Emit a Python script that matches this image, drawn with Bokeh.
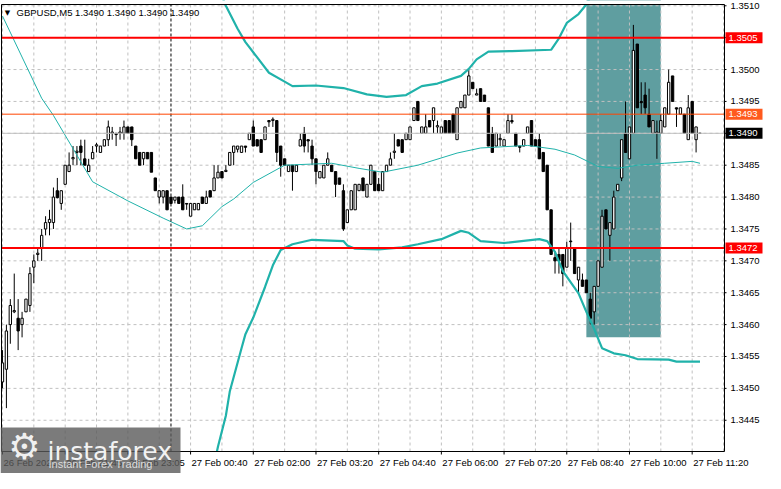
from bokeh.plotting import figure
from bokeh.models import Range1d
from bokeh.core.properties import value
from bokeh.embed import file_html
from bokeh.resources import INLINE

# ---------------- data ----------------
symbol = "GBPUSD,M5"
last_quote = "1.3490 1.3490 1.3490 1.3490"

opens = [
    1.3451, 1.3453, 1.3460, 1.3462, 1.3461, 1.3460, 1.3462, 1.3463, 1.3469, 1.3471,
    1.3472, 1.3475, 1.3476, 1.3476, 1.3481, 1.3479, 1.3482, 1.3484, 1.3486, 1.3487,
    1.3488, 1.3486, 1.3484, 1.3486, 1.3488, 1.3487, 1.3488, 1.3489, 1.3490, 1.3490,
    1.3490, 1.3490, 1.3491, 1.3491, 1.3488, 1.3487, 1.3486, 1.3487, 1.3487, 1.3483,
    1.3480, 1.3480, 1.3481, 1.3480, 1.34795, 1.3480, 1.3480, 1.3479, 1.3477, 1.3478,
    1.3478, 1.3480, 1.3479, 1.3481, 1.3481, 1.3483, 1.3484, 1.3484, 1.3485, 1.3487,
    1.34875, 1.3487, 1.3488, 1.3489, 1.3491, 1.3489, 1.3489, 1.3489, 1.3492, 1.3492,
    1.3492, 1.3488, 1.3486, 1.3484, 1.3485, 1.3484, 1.3488, 1.3490, 1.3489, 1.3488,
    1.3486, 1.3483, 1.3483, 1.3485, 1.3485, 1.3484, 1.3483, 1.3481, 1.3476, 1.3478,
    1.3478, 1.3481, 1.3483, 1.3480, 1.3482, 1.3484, 1.3482, 1.3481, 1.3484, 1.3485,
    1.3487, 1.3489, 1.3489, 1.3489, 1.3489, 1.3492, 1.3495, 1.3490, 1.3490, 1.3492,
    1.3492, 1.3491, 1.3490, 1.3492, 1.3492, 1.3493, 1.3489, 1.3494, 1.3494, 1.3496,
    1.3498, 1.3496, 1.3497, 1.3496, 1.3494, 1.3490, 1.3488, 1.3489, 1.3488, 1.3490,
    1.3492, 1.3490, 1.3488, 1.3488, 1.3490, 1.3492, 1.3489, 1.3489, 1.3487, 1.3485,
    1.3478, 1.34705, 1.3471, 1.3471, 1.3469, 1.34731, 1.3472, 1.3467, 1.3467, 1.3467,
    1.3464, 1.3462, 1.3466, 1.3469, 1.3478, 1.3474, 1.3475, 1.3481, 1.3483, 1.3490,
    1.3486, 1.3490, 1.3504, 1.3495, 1.3496, 1.3493, 1.3490, 1.3490, 1.3490, 1.3491,
    1.3493, 1.3499, 1.3494, 1.3493, 1.3493, 1.3489, 1.3495, 1.3489, 1.3490,
]
highs = [
    1.3456, 1.3460, 1.3464, 1.3468, 1.3464, 1.3462, 1.3464, 1.3469, 1.3471, 1.3472,
    1.3475, 1.3477, 1.3478, 1.34815, 1.3483, 1.3481, 1.3485, 1.3487, 1.3488, 1.3488,
    1.3489, 1.3489, 1.3486, 1.3488, 1.34885, 1.3488, 1.3489, 1.3492, 1.3491, 1.3490,
    1.3491, 1.3492, 1.3491, 1.3491, 1.3488, 1.3487, 1.3487, 1.3487, 1.3487, 1.3483,
    1.3481, 1.3481, 1.3481, 1.3480, 1.3480, 1.3480, 1.3482, 1.3479, 1.3479, 1.3479,
    1.3479, 1.3480, 1.3481, 1.3481, 1.3485, 1.3485, 1.3484, 1.3485, 1.3487, 1.3488,
    1.3488, 1.3488, 1.3488, 1.3490, 1.3492, 1.3489, 1.3489, 1.3491, 1.3492, 1.34925,
    1.3492, 1.3488, 1.3486, 1.3485, 1.3485, 1.3485, 1.3490, 1.3491, 1.3489, 1.3489,
    1.3486, 1.3484, 1.3485, 1.3487, 1.3485, 1.3484, 1.3483, 1.3482, 1.3478, 1.3481,
    1.3482, 1.3482, 1.3483, 1.3482, 1.3485, 1.3484, 1.3483, 1.3484, 1.3485, 1.3487,
    1.3490, 1.3489, 1.3489, 1.3490, 1.3491, 1.3494, 1.3495, 1.3491, 1.3493, 1.3492,
    1.3494, 1.3492, 1.3491, 1.3492, 1.3492, 1.3493, 1.3494, 1.3495, 1.3496, 1.3500,
    1.3498, 1.3497, 1.3497, 1.3496, 1.3494, 1.3491, 1.3490, 1.3490, 1.3489, 1.3493,
    1.3493, 1.3490, 1.3488, 1.3489, 1.3491, 1.3492, 1.3489, 1.3490, 1.3487, 1.3485,
    1.3478, 1.34715, 1.3472, 1.3471, 1.3473, 1.3476, 1.3472, 1.3469, 1.3468, 1.3467,
    1.3465, 1.3466, 1.3470, 1.3478, 1.3478, 1.3476, 1.3481, 1.3482, 1.3489, 1.3495,
    1.3491, 1.3507, 1.3504, 1.3498, 1.3498, 1.3497, 1.3492, 1.3492, 1.3493, 1.3494,
    1.3500, 1.3499, 1.3494, 1.3494, 1.3493, 1.3496, 1.3495, 1.3491, 1.3490,
]
lows = [
    1.3450, 1.34469, 1.3457, 1.34618, 1.3456, 1.3458, 1.3462, 1.3462, 1.34665, 1.3470,
    1.3470, 1.3474, 1.3474, 1.3475, 1.34798, 1.3478, 1.3482, 1.3484, 1.3485, 1.3485,
    1.3485, 1.3485, 1.3484, 1.3486, 1.3487, 1.3487, 1.3488, 1.3488, 1.3489, 1.3488,
    1.3489, 1.3489, 1.3490, 1.3488, 1.3486, 1.3485, 1.3485, 1.3486, 1.3484, 1.3481,
    1.3479, 1.3479, 1.3478, 1.3479, 1.3479, 1.3479, 1.3478, 1.3478, 1.3477, 1.3478,
    1.3478, 1.3479, 1.3479, 1.3480, 1.3481, 1.3483, 1.3483, 1.3484, 1.3485, 1.3485,
    1.3487, 1.3487, 1.3487, 1.3489, 1.3488, 1.3488, 1.3487, 1.3489, 1.3491, 1.3491,
    1.34855, 1.34832, 1.3485, 1.3484, 1.3481, 1.3484, 1.3488, 1.3487, 1.3487, 1.3485,
    1.3482, 1.3483, 1.3483, 1.3485, 1.3484, 1.3480, 1.3482, 1.34747, 1.3476, 1.3478,
    1.3478, 1.3481, 1.3481, 1.3480, 1.3482, 1.3481, 1.3481, 1.3481, 1.3484, 1.3485,
    1.3486, 1.3488, 1.3487, 1.3489, 1.3489, 1.3492, 1.3492, 1.3490, 1.3490, 1.3491,
    1.3490, 1.3490, 1.3490, 1.3490, 1.3490, 1.3490, 1.3489, 1.3494, 1.3494, 1.3496,
    1.3497, 1.3496, 1.3495, 1.3495, 1.3488, 1.3487, 1.3488, 1.3488, 1.3488, 1.3490,
    1.34915, 1.3488, 1.3487, 1.3488, 1.3490, 1.3488, 1.3488, 1.3486, 1.3484, 1.3478,
    1.3471, 1.3468, 1.3468, 1.3466, 1.3469, 1.3470, 1.3468, 1.3465, 1.3466, 1.3465,
    1.3460, 1.3460, 1.3466, 1.3469, 1.3475, 1.3470, 1.3475, 1.3481, 1.34825, 1.3487,
    1.3486, 1.3490, 1.3494, 1.3493, 1.3493, 1.3491, 1.3490, 1.3486, 1.3490, 1.3491,
    1.3493, 1.3495, 1.3491, 1.3493, 1.3490, 1.3489, 1.3490, 1.3487, 1.3490,
]
closes = [
    1.3454, 1.3459, 1.3463, 1.34622, 1.3459, 1.3461, 1.3464, 1.3468, 1.3470, 1.34712,
    1.3474, 1.3476, 1.34765, 1.3480, 1.34799, 1.3481, 1.3485, 1.3485, 1.34862, 1.34872,
    1.3487, 1.3485, 1.3485, 1.3487, 1.34882, 1.3488, 1.3489, 1.3491, 1.34902, 1.34898,
    1.34902, 1.3491, 1.3490, 1.3489, 1.3486, 1.3485, 1.3487, 1.3486, 1.34839, 1.3481,
    1.3481, 1.3481, 1.3478, 1.3479, 1.3480, 1.3479, 1.3478, 1.34789, 1.3479, 1.3479,
    1.3479, 1.3479, 1.3480, 1.3480, 1.3483, 1.34839, 1.3483, 1.34842, 1.3487, 1.3488,
    1.3488, 1.3488, 1.34878, 1.3490, 1.3488, 1.3488, 1.3487, 1.3491, 1.34918, 1.34922,
    1.3487, 1.3485, 1.3485, 1.3485, 1.3484, 1.3485, 1.3489, 1.3488, 1.34888, 1.3486,
    1.3484, 1.3484, 1.3485, 1.3486, 1.3484, 1.3482, 1.3482, 1.3475, 1.3478, 1.3481,
    1.3482, 1.3482, 1.3481, 1.3482, 1.3485, 1.3481, 1.3481, 1.3484, 1.3485, 1.3486,
    1.34872, 1.3488, 1.3487, 1.3490, 1.3491, 1.3494, 1.3492, 1.3491, 1.3491, 1.3491,
    1.3494, 1.34912, 1.3491, 1.3490, 1.3490, 1.3490, 1.3494, 1.3495, 1.3496, 1.3499,
    1.3497, 1.34962, 1.3495, 1.3495, 1.3488, 1.3487, 1.3490, 1.34892, 1.3489, 1.3492,
    1.34918, 1.3488, 1.34878, 1.3489, 1.3491, 1.3488, 1.3488, 1.3486, 1.3484, 1.3478,
    1.3471, 1.3470, 1.3470, 1.3468, 1.3472, 1.3473, 1.3468, 1.3469, 1.3466, 1.3465,
    1.3461, 1.3466, 1.3470, 1.3477, 1.3475, 1.3476, 1.3480, 1.3482, 1.3489, 1.3487,
    1.3491, 1.3503, 1.3494, 1.34948, 1.3494, 1.3491, 1.3492, 1.34902, 1.3492, 1.3494,
    1.3498, 1.3495, 1.34938, 1.3494, 1.3490, 1.3494, 1.3490, 1.3491, 1.3490,
]

# moving average (thin) and Bollinger bands (thick): read points (bar index, price)
ma_bars = [0, 10, 13, 23, 32, 41, 47, 51, 56, 59, 64, 72, 84, 91, 97, 106, 116, 122,
           134, 141, 146, 152, 157, 162, 169, 176, 178]
ma_vals = [1.35084, 1.34955, 1.34928, 1.34824, 1.34794, 1.34767, 1.34750, 1.34755,
           1.34785, 1.34797, 1.34823, 1.34850, 1.34853, 1.34845, 1.34839, 1.34850,
           1.34869, 1.34877, 1.34881, 1.34875, 1.34866, 1.34848, 1.34845, 1.34850,
           1.34853, 1.34856, 1.34853]

upper_bars = [55, 57, 60, 62, 65, 68, 72, 74, 80, 87, 93, 98, 103, 107, 111, 117, 119,
              121, 124, 130, 140, 142, 144, 147, 149, 151]
upper_vals = [1.35130, 1.35100, 1.35064, 1.35043, 1.35019, 1.34995, 1.34981, 1.34974,
              1.34975, 1.34971, 1.34961, 1.34957, 1.34960, 1.34974, 1.34978, 1.34990,
              1.35001, 1.35016, 1.35028, 1.35029, 1.35031, 1.35049, 1.35073, 1.35087,
              1.35102, 1.35125]

lower_bars = [54, 55, 57, 58, 61, 62, 64, 67, 69, 71, 74, 79, 87, 88, 90, 96, 102, 106,
              112, 117, 119, 122, 128, 137, 139, 141, 143, 147, 149, 151, 153, 156, 159,
              162, 170, 172, 178]
lower_vals = [1.34381, 1.34409, 1.34457, 1.34495, 1.34563, 1.34585, 1.34611, 1.34659,
              1.34693, 1.34717, 1.34726, 1.34733, 1.34731, 1.34724, 1.34719, 1.34718,
              1.34721, 1.34726, 1.34734, 1.34747, 1.34744, 1.34731, 1.34728, 1.34734,
              1.34731, 1.34714, 1.34684, 1.34649, 1.34620, 1.34593, 1.34563, 1.34555,
              1.34552, 1.34546, 1.34545, 1.34542, 1.34542]

# horizontal levels and the shaded zone
red_levels = [1.3505, 1.3472]
orange_level = 1.3493
bid_level = 1.3490
zone_bars = [149, 168]
zone_prices = [1.3458, 1.3512]
day_break_bar = 43

# axes
time_tick_bars = [0, 16, 32, 48, 64, 80, 96, 112, 128, 144, 160, 176]
time_tick_labels = ["26 Feb 2025", "26 Feb 21:45", "26 Feb 23:05", "27 Feb 00:40",
                    "27 Feb 02:00", "27 Feb 03:20", "27 Feb 04:40", "27 Feb 06:00",
                    "27 Feb 07:20", "27 Feb 08:40", "27 Feb 10:00", "27 Feb 11:20"]
price_ticks = [1.3445, 1.3450, 1.3455, 1.3460, 1.3465, 1.3470, 1.3475, 1.3480,
               1.3485, 1.3490, 1.3495, 1.3500, 1.3505, 1.3510]
logo_word = "instaforex"
logo_tagline = "Instant Forex Trading"

# ---------------- layout / styling ----------------
FONT = "Liberation Sans"
FS = "9.5px"
TEAL = "#20b2aa"
GRID = "#c0c0c0"

CW, CH = 765, 473                  # canvas
L, T, R, B = 1, 4, 724, 451        # chart area borders (canvas px)
bar_lo, bar_hi = -0.25, 184.25     # chart area in bar units
price_lo, price_hi = 1.34401, 1.35102

ppb = (R - L) / (bar_hi - bar_lo)
ppp = (B - T) / (price_hi - price_lo)
x_start = bar_lo - L / ppb
x_end = x_start + CW / ppb
y_end = price_hi + T / ppp
y_start = y_end - CH / ppp


def cx(px):
    return x_start + px / ppb


def cy(py):
    return y_end - py / ppp


def dx(px):
    return px / ppb


def dy(py):
    return py / ppp


bars = list(range(len(opens)))
body_top = [max(o, c) for o, c in zip(opens, closes)]
body_bot = [min(o, c) for o, c in zip(opens, closes)]
body_fill = ["white" if c >= o else "black" for o, c in zip(opens, closes)]

p = figure(width=CW, height=CH,
           x_range=Range1d(x_start, x_end), y_range=Range1d(y_start, y_end),
           x_axis_location=None, y_axis_location=None,
           toolbar_location=None, output_backend="svg",
           min_border=0, min_border_left=0, min_border_right=0,
           min_border_top=0, min_border_bottom=0,
           background_fill_color="white", border_fill_color="white",
           outline_line_color=None)
p.xgrid.visible = False
p.ygrid.visible = False

# shaded zone
p.quad(left=[zone_bars[0]], right=[zone_bars[1]], bottom=[zone_prices[0]], top=[zone_prices[1]],
       fill_color="#5f9ea0", line_color=None)

# dashed grid
grid_bars = list(range(0, 185, 8))
p.segment(x0=grid_bars, y0=[price_lo] * len(grid_bars), x1=grid_bars, y1=[price_hi] * len(grid_bars),
          line_color=GRID, line_width=1, line_dash="3 3")
p.segment(x0=[bar_lo] * len(price_ticks), y0=price_ticks, x1=[bar_hi] * len(price_ticks), y1=price_ticks,
          line_color=GRID, line_width=1, line_dash="3 3")

# candles
p.segment(x0=bars, y0=highs, x1=bars, y1=lows, line_color="black", line_width=1)
p.vbar(x=bars, width=0.6, top=body_top, bottom=body_bot, fill_color=body_fill,
       line_color="black", line_width=1)

# indicators
p.line(ma_bars, ma_vals, line_color=TEAL, line_width=1)
p.line(upper_bars, upper_vals, line_color=TEAL, line_width=2.2)
p.line(lower_bars, lower_vals, line_color=TEAL, line_width=2.2)

# levels
p.segment(x0=[day_break_bar], y0=[price_lo], x1=[day_break_bar], y1=[price_hi],
          line_color="black", line_width=1, line_dash="3 2")
p.segment(x0=[bar_lo], y0=[bid_level], x1=[bar_hi], y1=[bid_level], line_color="#c0c0c0", line_width=1)
p.segment(x0=[bar_lo], y0=[orange_level], x1=[bar_hi], y1=[orange_level], line_color="#ff4500", line_width=1)
p.segment(x0=[bar_lo] * 2, y0=red_levels, x1=[bar_hi] * 2, y1=red_levels, line_color="#ff0000", line_width=2)

# mask everything outside the chart area, then the chart border
p.quad(left=[x_start, x_start, bar_hi, x_start], right=[x_end, x_end, x_end, bar_lo],
       bottom=[price_hi, y_start, y_start, y_start], top=[y_end, price_lo, y_end, y_end],
       fill_color="white", line_color=None)
p.quad(left=[bar_lo], right=[bar_hi], bottom=[price_lo], top=[price_hi],
       fill_color=None, line_color="black", line_width=1)

# symbol caption
p.text(x=[cx(L + 6)], y=[cy(T + 8)], text=["\u25bc"], text_font=value("DejaVu Sans"),
       text_font_size="7px", text_color="black", text_align="center", text_baseline="middle")
p.text(x=[cx(L + 15)], y=[cy(T + 8)], text=[symbol + "  " + last_quote], text_font=value(FONT),
       text_font_size=FS, text_color="black", text_align="left", text_baseline="middle")

# right price axis: ticks + labels
p.segment(x0=[bar_hi] * len(price_ticks), y0=price_ticks, x1=[bar_hi + dx(2)] * len(price_ticks),
          y1=price_ticks, line_color="black", line_width=1)
p.text(x=[bar_hi + dx(6)] * len(price_ticks), y=price_ticks, text=["%.4f" % v for v in price_ticks],
       text_font=value(FONT), text_font_size=FS, text_color="black",
       text_align="left", text_baseline="middle")

# bottom time axis: ticks + left-aligned labels
p.segment(x0=time_tick_bars, y0=[price_lo] * len(time_tick_bars), x1=time_tick_bars,
          y1=[price_lo - dy(3)] * len(time_tick_bars), line_color="black", line_width=1)
p.text(x=[b + dx(1) for b in time_tick_bars], y=[price_lo - dy(5)] * len(time_tick_bars),
       text=time_tick_labels, text_font=value(FONT), text_font_size=FS, text_color="black",
       text_align="left", text_baseline="top")

# price tags on the right axis
tag_prices = [red_levels[0], orange_level, bid_level, red_levels[1]]
tag_colors = ["#ff0000", "#ff5a1e", "black", "#ff0000"]
p.quad(left=[bar_hi + dx(1)] * 4, right=[bar_hi + dx(38)] * 4,
       bottom=[v - dy(5.5) for v in tag_prices], top=[v + dy(5.5) for v in tag_prices],
       fill_color=tag_colors, line_color=None)
p.text(x=[bar_hi + dx(4)] * 4, y=tag_prices, text=["%.4f" % v for v in tag_prices],
       text_font=value(FONT), text_font_size=FS, text_color="white",
       text_align="left", text_baseline="middle")

# watermark logo bottom-left
p.quad(left=[x_start], right=[cx(180)], bottom=[y_start], top=[cy(CH - 46)],
       fill_color="#5a5a5a", fill_alpha=0.8, line_color=None)
p.text(x=[cx(24)], y=[cy(CH - 27)], text=["\u2699"], text_font=value("DejaVu Sans"),
       text_font_size="36px", text_color="#f0f0f0", text_align="center", text_baseline="middle")
p.text(x=[cx(47)], y=[cy(CH - 22)], text=[logo_word], text_font=value("DejaVu Sans"),
       text_font_size="25px", text_color="#f2f2f2", text_align="left", text_baseline="alphabetic")
p.text(x=[cx(48)], y=[cy(CH - 10)], text=[logo_tagline], text_font=value(FONT),
       text_font_size="11px", text_color="#dcdcdc", text_align="left", text_baseline="middle")

open("out.html", "w").write(file_html(p, INLINE))
